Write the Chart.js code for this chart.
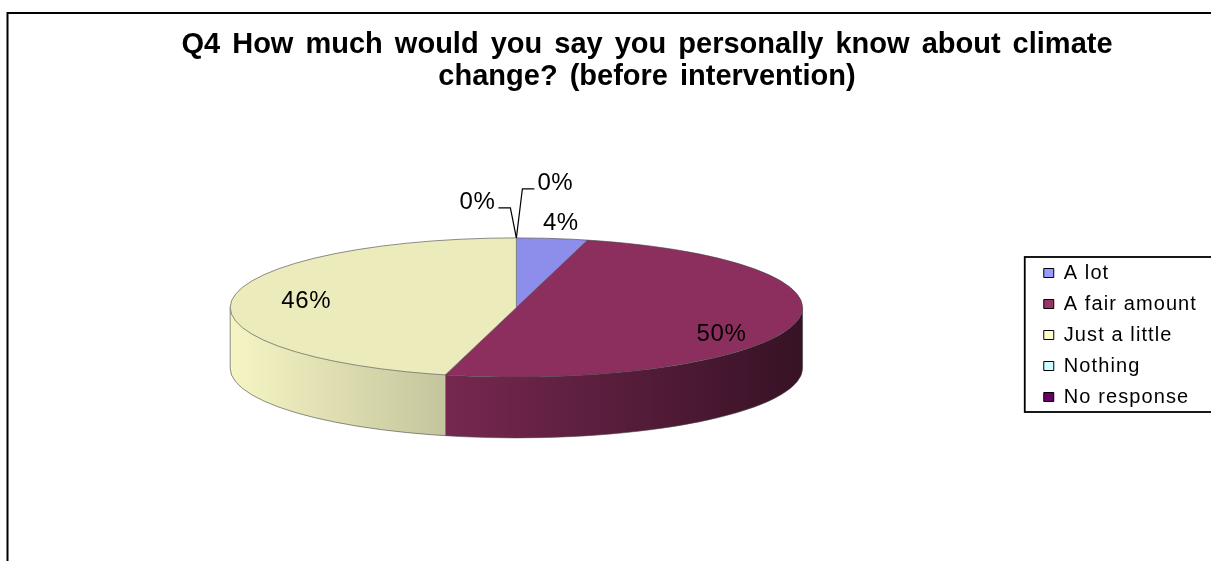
<!DOCTYPE html>
<html>
<head>
<meta charset="utf-8">
<title>Q4 knowledge about climate change</title>
<script src="https://cdn.jsdelivr.net/npm/chart.js@4.4.1/dist/chart.umd.min.js"></script>
<style>
	html, body { margin: 0; padding: 0; background: #fff; }
	canvas { display: block; }
</style>
</head>
<body>
<canvas id="chart" width="1211" height="561"></canvas>
<script>

// Answers and how many people (in %) gave each one
var categories						 =	["A lot", "A fair amount", "Just a little", "Nothing", "No response"];
var responses						 =	[4, 50, 46, 0, 0];
var titleLines						 =	["Q4 How much would you say you personally know about climate", "change? (before intervention)"];

// Excel 2003 palette
var sliceColours					 =	["#9999ff", "#993366", "#ffffcc", "#ccffff", "#660066"];

// Pie shape relative to the library radius
var PIE_STRETCH						 =	2.59;
var PIE_FLATTEN						 =	0.63;
var PIE_DEPTH						 =	0.55;

var FONT_FAMILY						 =	'"Liberation Sans", Arial, sans-serif';

/**
 * Darkens a hex colour by a factor
 */
function shade(hex, k) {
	
	var n							 =	parseInt(hex.slice(1), 16);
	var r							 =	Math.round(((n >> 16) & 255) * k);
	var g							 =	Math.round(((n >> 8) & 255) * k);
	var b							 =	Math.round((n & 255) * k);
	
	return `rgb(${r}, ${g}, ${b})`;
	
}

/**
 * Ellipse the flat pie is squashed into
 */
function pieGeometry(chart) {
	
	var arc							 =	chart.getDatasetMeta(0).data[0];
	var r							 =	arc.outerRadius;
	
	return {
		cx							 :	arc.x,
		cy							 :	arc.y,
		r							 :	r,
		rx							 :	r * PIE_STRETCH,
		ry							 :	r * PIE_FLATTEN,
		depth						 :	r * PIE_DEPTH
	};
	
}

/**
 * Front wall of every slice, lit from the left
 */
function drawSides(chart, geo) {
	
	var ctx							 =	chart.ctx;
	var meta						 =	chart.getDatasetMeta(0);
	
	meta.data.forEach(function (arc, i) {
		
		var t0						 =	Math.max(arc.startAngle, 0);
		var t1						 =	Math.min(arc.endAngle, Math.PI);
		
		if (t1 <= t0) return;
		
		var gradient				 =	ctx.createLinearGradient(geo.cx - geo.rx, 0, geo.cx + geo.rx, 0);
		gradient.addColorStop(0, shade(sliceColours[i], 0.96));
		gradient.addColorStop(0.4, shade(sliceColours[i], 0.76));
		gradient.addColorStop(1, shade(sliceColours[i], 0.36));
		
		ctx.beginPath();
		ctx.ellipse(geo.cx, geo.cy, geo.rx, geo.ry, 0, t0, t1);
		ctx.ellipse(geo.cx, geo.cy + geo.depth, geo.rx, geo.ry, 0, t1, t0, true);
		ctx.closePath();
		ctx.fillStyle				 =	gradient;
		ctx.fill();
		
	});
	
	// outline of the wall
	ctx.beginPath();
	ctx.moveTo(geo.cx - geo.rx, geo.cy);
	ctx.lineTo(geo.cx - geo.rx, geo.cy + geo.depth);
	ctx.ellipse(geo.cx, geo.cy + geo.depth, geo.rx, geo.ry, 0, Math.PI, 0, true);
	ctx.lineTo(geo.cx + geo.rx, geo.cy);
	ctx.strokeStyle					 =	"rgba(70, 70, 70, 0.6)";
	ctx.lineWidth					 =	1;
	ctx.stroke();
	
}

/**
 * Rim and slice borders of the top face
 */
function drawEdges(chart, geo) {
	
	var ctx							 =	chart.ctx;
	var meta						 =	chart.getDatasetMeta(0);
	
	ctx.save();
	ctx.strokeStyle					 =	"rgba(70, 70, 70, 0.6)";
	ctx.lineWidth					 =	1;
	
	ctx.beginPath();
	ctx.ellipse(geo.cx, geo.cy, geo.rx, geo.ry, 0, 0, Math.PI * 2);
	ctx.stroke();
	
	meta.data.forEach(function (arc, i) {
		
		if (!responses[i]) return;
		
		ctx.beginPath();
		ctx.moveTo(geo.cx, geo.cy);
		ctx.lineTo(geo.cx + geo.rx * Math.cos(arc.startAngle), geo.cy + geo.ry * Math.sin(arc.startAngle));
		ctx.stroke();
		
	});
	
	ctx.restore();
	
}

/**
 * Percentage labels, small slices outside, empty ones on a leader line
 */
function drawLabels(chart, geo) {
	
	var ctx							 =	chart.ctx;
	var meta						 =	chart.getDatasetMeta(0);
	var total						 =	responses.reduce(function (a, b) { return a + b; }, 0);
	var empty						 =	0;
	
	ctx.save();
	ctx.font						 =	"24px " + FONT_FAMILY;
	ctx.letterSpacing				 =	"0.6px";
	ctx.fillStyle					 =	"#000";
	ctx.strokeStyle					 =	"#000";
	ctx.lineWidth					 =	1.2;
	ctx.textBaseline				 =	"middle";
	
	meta.data.forEach(function (arc, i) {
		
		var share					 =	responses[i] / total;
		var text					 =	Math.round(share * 100) + "%";
		var mid						 =	(arc.startAngle + arc.endAngle) / 2;
		var cos						 =	Math.cos(mid);
		var sin						 =	Math.sin(mid);
		
		if (share >= 0.1) {
			
			ctx.textAlign			 =	"center";
			ctx.fillText(text, geo.cx + 0.74 * geo.rx * cos, geo.cy + 0.74 * geo.ry * sin + Math.max(0, sin) * geo.depth * 0.9);
			
		} else if (share > 0) {
			
			ctx.textAlign			 =	"center";
			ctx.fillText(text, geo.cx + 1.24 * geo.rx * cos, geo.cy + 1.22 * geo.ry * sin);
			
		} else {
			
			var ax					 =	geo.cx + geo.rx * cos;
			var ay					 =	geo.cy + geo.ry * sin;
			var side				 =	empty % 2 === 0 ? -1 : 1;
			var rise				 =	side < 0 ? 30 : 49;
			
			ctx.beginPath();
			ctx.moveTo(ax, ay);
			ctx.lineTo(ax + side * 6, ay - rise);
			ctx.lineTo(ax + side * 18, ay - rise);
			ctx.stroke();
			
			ctx.textAlign			 =	side < 0 ? "right" : "left";
			ctx.fillText(text, ax + side * 21, ay - rise - 6);
			
			empty++;
			
		}
		
	});
	
	ctx.restore();
	
}

var pie3d							 =	{
	id								 :	"pie3d",
	beforeLayout					 :	function (chart) {
		chart.ctx.letterSpacing		 =	"1.1px";
	},
	beforeDraw						 :	function (chart) {
		
		var ctx						 =	chart.ctx;
		
		ctx.save();
		ctx.fillStyle				 =	"#fff";
		ctx.fillRect(0, 0, chart.width, chart.height);
		
		// chart frame
		ctx.beginPath();
		ctx.moveTo(7.5, chart.height + 5);
		ctx.lineTo(7.5, 13);
		ctx.lineTo(chart.width + 5, 13);
		ctx.lineWidth				 =	2;
		ctx.strokeStyle				 =	"#000";
		ctx.stroke();
		ctx.restore();
		
	},
	beforeDatasetsDraw				 :	function (chart) {
		
		var geo						 =	pieGeometry(chart);
		var ctx						 =	chart.ctx;
		
		ctx.save();
		drawSides(chart, geo);
		ctx.restore();
		
		// squash the library's round pie into the top face
		ctx.save();
		ctx.translate(geo.cx, geo.cy);
		ctx.scale(geo.rx / geo.r, geo.ry / geo.r);
		ctx.translate(-geo.cx, -geo.cy);
		
	},
	afterDatasetsDraw				 :	function (chart) {
		
		chart.ctx.restore();
		
		var geo						 =	pieGeometry(chart);
		drawEdges(chart, geo);
		drawLabels(chart, geo);
		
	},
	afterDraw						 :	function (chart) {
		
		var ctx						 =	chart.ctx;
		var boxes					 =	chart.legend.legendHitBoxes;
		var first					 =	boxes[0];
		var last					 =	boxes[boxes.length - 1];
		var top						 =	first.top + first.height / 2 - 16;
		var bottom					 =	last.top + last.height / 2 + 15;
		
		ctx.save();
		
		// legend frame
		ctx.lineWidth				 =	1.8;
		ctx.strokeStyle				 =	"#000";
		ctx.strokeRect(first.left - 19, top, chart.width, bottom - top);
		
		// title
		ctx.font					 =	"bold 29px " + FONT_FAMILY;
		ctx.letterSpacing			 =	"0px";
		ctx.wordSpacing				 =	"4px";
		ctx.fillStyle				 =	"#000";
		ctx.textAlign				 =	"center";
		ctx.textBaseline			 =	"alphabetic";
		titleLines.forEach(function (line, i) {
			ctx.fillText(line, 647, 53 + i * 32);
		});
		
		ctx.restore();
		
	}
};

new Chart(document.getElementById("chart"), {
	type							 :	"pie",
	data							 :	{
		labels						 :	categories,
		datasets					 :	[{
			data					 :	responses,
			backgroundColor			 :	sliceColours.map(function (c) { return shade(c, 0.92); }),
			borderWidth				 :	0,
			clip					 :	false
		}]
	},
	options							 :	{
		responsive					 :	false,
		animation					 :	false,
		events						 :	[],
		layout						 :	{
			padding					 :	{ top: 197, bottom: 143, left: 0, right: 4 }
		},
		plugins						 :	{
			title					 :	{ display: false },
			tooltip					 :	{ enabled: false },
			legend					 :	{
				position			 :	"right",
				align				 :	"end",
				labels				 :	{
					boxWidth		 :	10,
					boxHeight		 :	9,
					padding			 :	11,
					color			 :	"#000",
					font			 :	{ family: FONT_FAMILY, size: 20 },
					generateLabels	 :	function (chart) {
						return categories.map(function (text, i) {
							return {
								text		 :	text,
								fillStyle	 :	sliceColours[i],
								strokeStyle	 :	"#000",
								lineWidth	 :	1,
								hidden		 :	false,
								index		 :	i
							};
						});
					}
				}
			}
		}
	},
	plugins							 :	[pie3d]
});

</script>
</body>
</html>
